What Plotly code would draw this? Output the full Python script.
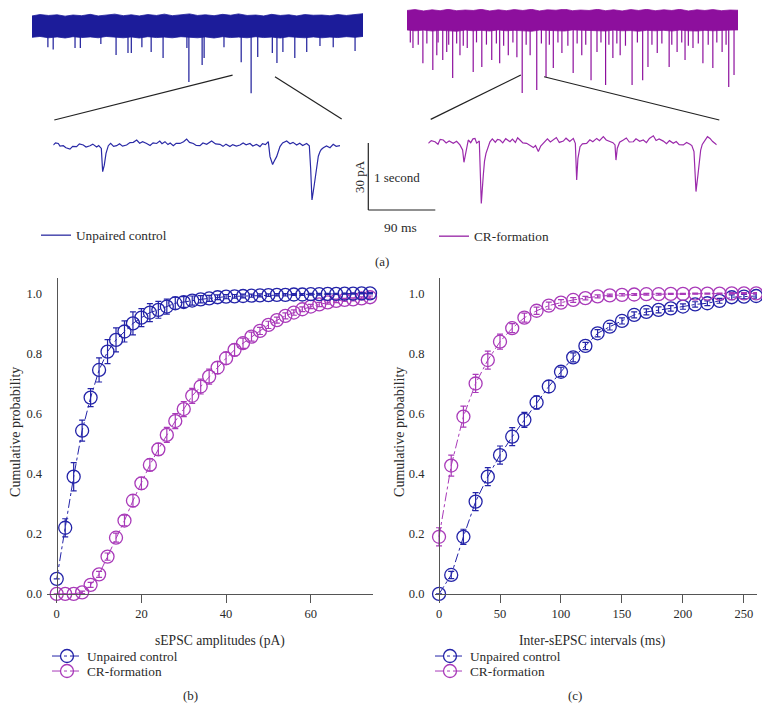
import plotly.graph_objects as go

# The page body adds an 8 px margin on every side; keep the figure inside the window.
OFF = 8
W, H = 770 - 2 * OFF, 722 - 2 * OFF
SY = 0.9904  # measured vertical factor between page pixels and the captured picture

# ---------------- data: panel (b) amplitudes ----------------
amp_x = list(range(0, 76, 2))
amp_ctrl = [0.05, 0.22, 0.39, 0.543, 0.653, 0.745, 0.806, 0.845, 0.873, 0.90,
            0.919, 0.936, 0.945, 0.956, 0.967, 0.971, 0.976, 0.980, 0.983, 0.987,
            0.989, 0.990, 0.991, 0.992, 0.993, 0.994, 0.995, 0.995, 0.996, 0.996,
            0.997, 0.997, 0.998, 0.998, 0.999, 0.999, 1.0, 1.0]
amp_ctrl_err = [0.0, 0.03, 0.047, 0.035, 0.03, 0.04, 0.04, 0.04, 0.035, 0.038,
                0.03, 0.03, 0.028, 0.025, 0.02, 0.018, 0.015, 0.012, 0.01, 0.008,
                0.007, 0.006, 0.006, 0.005, 0.005, 0.004, 0.004, 0.004, 0.003, 0.003,
                0.003, 0.003, 0.002, 0.002, 0.002, 0.002, 0.002, 0.002]
amp_cr = [0.0, 0.0, 0.0, 0.005, 0.03, 0.065, 0.124, 0.187, 0.244, 0.31,
          0.368, 0.429, 0.481, 0.529, 0.575, 0.615, 0.659, 0.69, 0.723, 0.753,
          0.784, 0.812, 0.834, 0.856, 0.875, 0.895, 0.911, 0.925, 0.936, 0.947,
          0.956, 0.963, 0.97, 0.975, 0.978, 0.98, 0.983, 0.987]
amp_cr_err = [0.0, 0.0, 0.0, 0.004, 0.008, 0.01, 0.012, 0.015, 0.018, 0.02,
              0.02, 0.02, 0.02, 0.025, 0.025, 0.025, 0.025, 0.025, 0.025, 0.02,
              0.02, 0.02, 0.017, 0.015, 0.012, 0.012, 0.01, 0.01, 0.009, 0.008,
              0.007, 0.007, 0.006, 0.006, 0.005, 0.005, 0.005, 0.004]

# ---------------- data: panel (c) intervals ----------------
int_x = list(range(0, 261, 10))
int_ctrl = [0.0, 0.063, 0.19, 0.307, 0.39, 0.462, 0.523, 0.579, 0.637, 0.69,
            0.739, 0.787, 0.825, 0.867, 0.889, 0.908, 0.928, 0.938, 0.945, 0.95,
            0.956, 0.963, 0.967, 0.975, 0.987, 0.989, 0.991]
int_ctrl_err = [0.0, 0.012, 0.025, 0.03, 0.03, 0.03, 0.03, 0.025, 0.022, 0.02,
                0.015, 0.015, 0.012, 0.012, 0.011, 0.01, 0.01, 0.01, 0.01, 0.009,
                0.009, 0.009, 0.008, 0.008, 0.008, 0.007, 0.007]
int_cr = [0.19, 0.427, 0.59, 0.70, 0.778, 0.839, 0.884, 0.919, 0.942, 0.959,
          0.969, 0.978, 0.984, 0.99, 0.993, 0.995, 0.996, 0.997, 0.997, 0.998,
          0.998, 0.999, 0.999, 0.999, 1.0, 1.0, 1.0]
int_cr_err = [0.03, 0.035, 0.035, 0.03, 0.03, 0.025, 0.015, 0.015, 0.012, 0.012,
              0.01, 0.008, 0.006, 0.005, 0.004, 0.004, 0.003, 0.003, 0.003, 0.002,
              0.002, 0.002, 0.002, 0.002, 0.002, 0.002, 0.002]

# ---------------- data: panel (a) raw traces (s, pA) ----------------
env_t = [0.0, 0.12, 0.25, 0.38, 0.5, 0.62, 0.75, 0.88, 1.0, 1.12, 1.25, 1.38, 1.5, 1.62,
         1.75, 1.88, 2.0, 2.12, 2.25, 2.38, 2.5, 2.62, 2.75, 2.88, 3.0, 3.12, 3.25, 3.38,
         3.5, 3.62, 3.75, 3.88, 4.0, 4.12, 4.25, 4.38, 4.5, 4.62, 4.75, 4.88, 5.0]
ctrl_upper = [5.0, 5.6, 5.2, 5.5, 4.9, 5.4, 5.1, 5.7, 5.0, 5.3, 5.8, 5.1, 5.5, 5.0,
              5.6, 5.2, 5.8, 5.1, 5.4, 5.9, 5.2, 5.5, 5.1, 5.7, 5.3, 5.9, 5.2, 5.4,
              5.0, 5.7, 5.2, 5.5, 5.0, 5.6, 5.3, 5.4, 5.1, 5.6, 5.2, 5.5, 6.0]
ctrl_lower = [-4.6, -4.2, -4.8, -4.4, -4.9, -4.3, -4.7, -4.4, -4.8, -4.2, -4.6, -4.8, -4.4, -4.9,
              -4.3, -4.7, -4.5, -4.8, -4.3, -4.6, -4.8, -4.4, -4.9, -4.3, -4.7, -4.5, -4.8, -4.3,
              -4.7, -4.5, -4.9, -4.3, -4.6, -4.8, -4.4, -4.8, -4.5, -4.7, -4.3, -4.6, -4.2]
ctrl_ev_t = [0.24, 0.32, 0.65, 0.73, 1.04, 1.27, 1.45, 1.50, 1.66, 1.80, 1.98, 2.34,
             2.37, 2.57, 2.60, 2.90, 3.16, 3.31, 3.41, 3.63, 3.70, 3.79, 3.97, 4.15,
             4.35, 4.55, 4.88]
ctrl_ev_a = [-9.0, -10.0, -9.4, -9.4, -7.6, -12.5, -11.6, -11.6, -9.0, -11.2, -13.9, -9.4,
             -24.6, -17.0, -13.9, -9.0, -15.7, -29.6, -13.4, -11.6, -16.1, -11.2, -13.9, -11.2,
             -8.5, -9.0, -10.7]

cr_upper = [4.3, 4.7, 4.1, 4.6, 4.2, 4.8, 4.2, 4.5, 4.3, 4.8, 4.1, 4.6, 4.2, 4.7,
            4.3, 4.8, 4.1, 4.6, 4.4, 4.9, 4.2, 4.5, 4.3, 4.8, 4.2, 4.6, 4.1, 4.7,
            4.3, 4.8, 4.2, 4.6, 4.3, 4.8, 4.1, 4.6, 4.3, 4.7, 4.2, 4.5, 4.4]
cr_lower = [-4.4, -4.8, -4.5, -4.9, -4.6, -4.8, -5.0, -4.5, -4.8, -4.6, -4.9, -4.4, -4.8, -4.6,
            -4.8, -5.0, -4.5, -4.8, -4.7, -4.9, -4.4, -4.8, -4.6, -4.8, -4.9, -4.5, -4.8, -4.7,
            -5.0, -4.6, -4.8, -4.6, -4.9, -4.5, -4.8, -4.9, -4.6, -4.8, -4.7, -4.5, -4.4]
cr_ev_t = [0.05, 0.09, 0.17, 0.24, 0.30, 0.39, 0.45, 0.47, 0.54, 0.60, 0.63, 0.69, 0.75,
           0.80, 0.85, 0.91, 1.00, 1.05, 1.13, 1.20, 1.28, 1.35, 1.40, 1.46, 1.53, 1.60,
           1.66, 1.74, 1.80, 1.86, 1.96, 2.03, 2.10, 2.15, 2.21, 2.28, 2.34, 2.43, 2.51,
           2.57, 2.64, 2.70, 2.78, 2.87, 2.93, 3.00, 3.05, 3.11, 3.17, 3.22, 3.30, 3.40,
           3.48, 3.56, 3.64, 3.70, 3.78, 3.85, 3.96, 4.00, 4.08, 4.15, 4.20, 4.25, 4.32,
           4.40, 4.47, 4.55, 4.62, 4.68, 4.76, 4.82, 4.86, 4.94]
cr_ev_a = [-10.0, -12.5, -11.0, -19.3, -10.5, -22.4, -15.7, -10.0, -17.9, -14.3, -11.0, -26.0, -10.5,
           -15.7, -11.5, -12.5, -23.3, -10.0, -21.0, -11.0, -17.9, -10.5, -19.3, -11.5, -15.7, -10.0,
           -16.6, -32.7, -11.0, -15.7, -31.3, -10.5, -25.5, -11.0, -21.5, -10.0, -14.8, -11.5, -23.7,
           -10.5, -15.7, -11.0, -26.9, -14.3, -10.0, -29.1, -11.0, -17.0, -10.5, -15.7, -11.5, -29.1,
           -10.0, -26.9, -21.0, -11.0, -14.8, -10.5, -21.0, -11.0, -14.3, -10.0, -17.9, -11.5, -12.5,
           -10.5, -19.3, -11.0, -21.5, -10.0, -14.3, -11.0, -30.0, -24.6]

# ---------------- data: zoomed inset traces (ms, pA) ----------------
ins_ctrl_t = [0, 3, 6.7, 9, 13.4, 17, 22.4, 26, 31.3, 35, 40.3, 44, 49.3, 53, 58.2, 61, 64.5,
              66.3, 68.5, 70.8, 73.9, 77, 81, 85.1, 89, 93, 98.5, 103, 107.5, 112, 116, 120,
              125.4, 130, 134, 138.8, 143, 146, 150, 154, 157, 161.2, 165, 170.2, 175, 179.1,
              183, 188.1, 192, 197, 201, 206, 212.7, 218, 223.9, 228, 232, 237.3, 241, 246,
              250.8, 255, 259, 264.2, 268, 273, 277.6, 281, 285, 288.8, 291.1, 294.6, 297, 300,
              304.5, 308, 313.5, 318, 322, 326.9, 331, 335, 340.3, 343.9, 345.7, 347.5, 350.2,
              353.8, 356, 358.2, 360, 362.7, 367, 371.7, 376, 380, 385.1]
ins_ctrl_a = [0, 1.0, 0.7, -0.5, -0.3, -1.2, -1.8, -0.6, -0.7, 0.5, 0, -0.9, -0.3, 0.4, -0.9, -0.2, -1.5,
              -11.9, -9.0, -3.7, -0.3, 0.8, -0.6, -0.3, 0.6, -0.5, 0, 1.1, 1.2, 2.2, 0.8, 1.5,
              0.7, -0.2, 1.0, 0.7, 1.8, 0.6, 1.5, 0.2, 0.9, -0.3, 0.8, 0.7, 1.5, 2.7,
              1.2, 0.7, -0.2, -0.3, 0.9, 0.3, 1.8, 0.5, 0.3, -0.6, 0.4, -0.7, 0.2, -0.5,
              0, 0.9, 0.1, 0.7, -0.4, 0.3, -0.7, 0.6, 0.2, 1.5, -5.2, -8.7, -7.0, -5.2,
              -0.7, 0.9, 1.8, 0.6, 1.2, 0, 0.8, -0.2, 0.7, -0.3, -10.4, -24.6, -18.7,
              -9.0, -5.0, -3.0, -2.0, -1.2, -0.4, -1.2, 0.3, -0.6, -0.3]
ins_cr_t = [0, 4, 9, 13, 16, 20.1, 24, 28, 33.6, 38, 42.5, 46.1, 47.9, 50.6, 53.7, 57, 60, 62.7,
            65, 68.5, 70.3, 71.2, 73.9, 75.5, 77.5, 80, 82.8, 86, 90, 93, 96.3, 100, 104, 109.7,
            113, 117, 120, 123.1, 127, 132.1, 136, 141.1, 144, 147.8, 151, 156.7, 160, 164,
            167.9, 172, 176, 181.4, 185, 190, 194.8, 197.5, 199.3, 201, 203.8, 207, 212.7, 217,
            221, 226.2, 230, 235.1, 239, 244.1, 248, 250.8, 252.1, 253.9, 257, 262, 266, 270,
            275.4, 279, 284, 288.8, 293, 297, 302.3, 306, 310, 315.7, 320, 324, 329.1, 333, 337,
            342.6, 347, 351.5, 354, 356.9, 359.6, 362.2, 365.9, 368, 371.7, 375, 378.4, 382, 387.4]
ins_cr_a = [0, 1.2, 0.7, -0.4, 1.8, 1.5, 0.2, 1.1, 0, 0.9, -0.7, -3.0, -8.5, -3.7, 1.5, 0.3, 2.0, 2.2,
            0.1, 1.0, -14.2, -26.9, -14.2, -8.0, -4.5, -1.5, 0.7, 2.0, 0.5, 1.8, 1.5, 0.2, 2.1, 0.7,
            1.9, 0.4, 2.5, 1.5, 0.2, 0, -0.8, -1.9, -1.0, -3.7, -1.2, 0.7, 2.0, 0.6,
            1.5, 2.6, 0.4, 1.0, 2.3, 0.8, 2.2, 0, -16.4, -6.7, -1.5, -0.2, 0, 1.6,
            0.7, 2.2, 1.2, 3.0, 1.5, 0.7, 0.3, -0.7, -7.5, -2.2, 0.5, 1.5, 2.4, 0.6,
            0.7, 2.0, 0.9, 1.5, 0.3, 2.2, 3.4, 1.3, 2.0, 1.0, -0.2, 1.2, 0, 0.8, -0.6,
            -0.7, 0.4, -0.4, -1.0, -3.7, -21.6, -14.2, -3.0, -0.5, 1.5, 3.0, 2.2, 0.8, -0.7]

SCALE_PA = 30
SCALE_MS = 90
ZOOM_CTRL = (3.03, 3.67)   # s, window of the raw trace shown enlarged
ZOOM_CR = (1.72, 2.07)

# ---------------- styling ----------------
FONT = "Liberation Serif"
TXT = "#2a2a2a"
AX = "#555555"
BLUE = "#2323a8"
PURP = "#a93ab9"
RAW_BLUE = "#1c1c9a"
RAW_PURP = "#8d0f9d"
INS_BLUE = "#2a2aa6"
INS_PURP = "#9b2aab"


def px(x):
    return (x - OFF) / W


def py(y):
    return 1 - (y / SY - OFF) / H


fig = go.Figure()


def cdf_trace(x, y, e, color, name, xa, ya, legend):
    return go.Scatter(
        x=x, y=y, mode="lines+markers", name=name,
        xaxis=xa, yaxis=ya, legend=legend, cliponaxis=False,
        line=dict(color=color, width=1, dash="dashdot"),
        marker=dict(symbol="circle-open", size=13, color=color, line=dict(width=1.3, color=color)),
        error_y=dict(type="data", array=e, visible=True, color=color, thickness=1.2, width=3),
    )


fig.add_trace(cdf_trace(amp_x, amp_cr, amp_cr_err, PURP, "CR-formation", "x", "y", "legend5"))
fig.add_trace(cdf_trace(amp_x, amp_ctrl, amp_ctrl_err, BLUE, "Unpaired control", "x", "y", "legend"))
fig.add_trace(cdf_trace(int_x, int_ctrl, int_ctrl_err, BLUE, "Unpaired control", "x2", "y2", "legend2"))
fig.add_trace(cdf_trace(int_x, int_cr, int_cr_err, PURP, "CR-formation", "x2", "y2", "legend6"))


def band(t, up, lo, color, xa, ya):
    return go.Scatter(x=t + t[::-1], y=up + lo[::-1], fill="toself", fillcolor=color,
                      line=dict(width=0.8, color=color), mode="lines", hoverinfo="skip",
                      showlegend=False, xaxis=xa, yaxis=ya)


def spikes(t, a, color, xa, ya, name, legend):
    xs, ys = [], []
    for ti, ai in zip(t, a):
        xs += [ti, ti, None]
        ys += [-4.0, ai, None]
    return go.Scatter(x=xs, y=ys, mode="lines", line=dict(color=color, width=1.2),
                      xaxis=xa, yaxis=ya, name=name, legend=legend, showlegend=True)


fig.add_trace(band(env_t, ctrl_upper, ctrl_lower, RAW_BLUE, "x3", "y3"))
fig.add_trace(spikes(ctrl_ev_t, ctrl_ev_a, RAW_BLUE, "x3", "y3", "Unpaired control", "legend3"))
fig.add_trace(band(env_t, cr_upper, cr_lower, RAW_PURP, "x4", "y4"))
fig.add_trace(spikes(cr_ev_t, cr_ev_a, RAW_PURP, "x4", "y4", "CR-formation", "legend4"))

fig.add_trace(go.Scatter(x=ins_ctrl_t, y=ins_ctrl_a, mode="lines", line=dict(color=INS_BLUE, width=1.2),
                         xaxis="x5", yaxis="y5", showlegend=False))
fig.add_trace(go.Scatter(x=ins_cr_t, y=ins_cr_a, mode="lines", line=dict(color=INS_PURP, width=1.2),
                         xaxis="x6", yaxis="y6", showlegend=False))

tickfont = dict(family=FONT, size=12.5, color=TXT)
hidden = dict(visible=False)

# pixel scale of panel (a): 67 px = 30 pA = 90 ms = 1 s
PX_PER_S = 331 / 5.0
PX_PER_PA = 67 / 30.0
PX_PER_MS = 67 / 90.0
RAW_CTRL_X0, RAW_CR_X0 = 32, 407
RAW_TOP, RAW_BOT = 9, 100


def lin_range(p0, p1, p_zero, ppu, invert=False):
    if invert:  # vertical: pixel grows downward
        return [-(p1 - p_zero) / ppu, (p_zero - p0) / ppu]
    return [(p0 - p_zero) / ppu, (p1 - p_zero) / ppu]


layout = dict(
    width=W, height=H, margin=dict(l=0, r=0, t=0, b=0),
    paper_bgcolor="white", plot_bgcolor="rgba(0,0,0,0)",
    font=dict(family=FONT, size=12.5, color=TXT),
    xaxis=dict(domain=[px(47), px(373)], range=[-2.3, 74.7], anchor="y",
               showline=True, linecolor=AX, linewidth=1.2, ticks="outside", ticklen=8,
               tickcolor=AX, tickwidth=1.2, tickvals=[0, 20, 40, 60], showgrid=False,
               zeroline=False, tickfont=tickfont),
    yaxis=dict(domain=[py(594), py(278)], range=[0, 1.051], anchor="free", position=px(56.7),
               showline=True, linecolor=AX, linewidth=1.2, ticks="", tickvals=[0, 0.2, 0.4, 0.6, 0.8, 1.0],
               tickformat=".1f", showgrid=False, zeroline=False, tickfont=tickfont, ticklabelstandoff=12),
    xaxis2=dict(domain=[px(435), px(757)], range=[-3.3, 260.7], anchor="y2",
                showline=True, linecolor=AX, linewidth=1.2, ticks="outside", ticklen=8,
                tickcolor=AX, tickwidth=1.2, tickvals=[0, 50, 100, 150, 200, 250], showgrid=False,
                zeroline=False, tickfont=tickfont),
    yaxis2=dict(domain=[py(594), py(278)], range=[0, 1.051], anchor="free", position=px(439),
                showline=True, linecolor=AX, linewidth=1.2, ticks="", tickvals=[0, 0.2, 0.4, 0.6, 0.8, 1.0],
                tickformat=".1f", showgrid=False, zeroline=False, tickfont=tickfont, ticklabelstandoff=12),
    xaxis3=dict(domain=[px(RAW_CTRL_X0), px(RAW_CTRL_X0 + 331)], range=[0, 5], anchor="y3", **hidden),
    yaxis3=dict(domain=[py(RAW_BOT), py(RAW_TOP)], range=lin_range(RAW_TOP, RAW_BOT, 27, PX_PER_PA, True),
                anchor="x3", **hidden),
    xaxis4=dict(domain=[px(RAW_CR_X0), px(RAW_CR_X0 + 331)], range=[0, 5], anchor="y4", **hidden),
    yaxis4=dict(domain=[py(RAW_BOT), py(RAW_TOP)], range=lin_range(RAW_TOP, RAW_BOT, 20, PX_PER_PA, True),
                anchor="x4", **hidden),
    xaxis5=dict(domain=[px(53.3), px(341.7)], range=lin_range(53.3, 341.7, 53.3, PX_PER_MS), anchor="y5", **hidden),
    yaxis5=dict(domain=[py(212), py(125)], range=lin_range(125, 212, 145, PX_PER_PA, True), anchor="x5", **hidden),
    xaxis6=dict(domain=[px(428.3), px(716.7)], range=lin_range(428.3, 716.7, 428.3, PX_PER_MS), anchor="y6", **hidden),
    yaxis6=dict(domain=[py(212), py(125)], range=lin_range(125, 212, 143.3, PX_PER_PA, True), anchor="x6", **hidden),
)

leg_common = dict(xanchor="left", yanchor="top", bgcolor="rgba(0,0,0,0)", borderwidth=0,
                  font=dict(family=FONT, size=13.3, color=TXT), tracegroupgap=0,
                  itemclick=False, itemdoubleclick=False)
layout["legend"] = dict(x=px(47), y=py(641), **leg_common)
layout["legend5"] = dict(x=px(47), y=py(656), **leg_common)
layout["legend2"] = dict(x=px(430), y=py(641), **leg_common)
layout["legend6"] = dict(x=px(430), y=py(656), **leg_common)
layout["legend3"] = dict(x=px(36), y=py(220), **leg_common)
layout["legend4"] = dict(x=px(434), y=py(221), **leg_common)

fig.update_layout(**layout)

line_k = dict(color="#222222", width=1.2)


def seg(x0, y0, x1, y1):
    return dict(type="line", xref="paper", yref="paper", x0=px(x0), y0=py(y0),
                x1=px(x1), y1=py(y1), line=line_k)


shapes = [
    # connectors from the zoomed window on each raw trace to its enlarged inset
    seg(RAW_CTRL_X0 + ZOOM_CTRL[0] * PX_PER_S, 75, 54.3, 120),
    seg(RAW_CTRL_X0 + ZOOM_CTRL[1] * PX_PER_S, 76.7, 341.7, 119),
    seg(RAW_CR_X0 + ZOOM_CR[0] * PX_PER_S, 75, 430.7, 119.3),
    seg(RAW_CR_X0 + ZOOM_CR[1] * PX_PER_S, 76.7, 719.3, 120),
]
# scale bar: 30 pA vertical, 90 ms horizontal
sb_x, sb_y = 368.3, 210
shapes.append(seg(sb_x, sb_y, sb_x, sb_y - SCALE_PA * PX_PER_PA))
shapes.append(seg(sb_x, sb_y, sb_x + SCALE_MS * PX_PER_MS, sb_y))
fig.update_layout(shapes=shapes)

ann = []


def text(x, y, s, size=12.5, angle=0, xanchor="center"):
    ann.append(dict(x=px(x), y=py(y), xref="paper", yref="paper", text=s, showarrow=False,
                    textangle=angle, xanchor=xanchor, yanchor="middle",
                    font=dict(family=FONT, size=size, color=TXT)))


text(359, 177, "30 pA", size=13, angle=-90)
text(372, 177, "1 second", size=13, xanchor="left")
text(400, 227, "90 ms", size=13.5)
text(382, 262, "(a)", size=13)
text(219.5, 641, "sEPSC amplitudes (pA)", size=13.6)
text(592, 641, "Inter-sEPSC intervals (ms)", size=13.6)
text(16, 432, "Cumulative probability", size=14, angle=-90)
text(400, 432, "Cumulative probability", size=14, angle=-90)
text(190, 696, "(b)", size=13)
text(575, 696, "(c)", size=13)
fig.update_layout(annotations=ann)

fig.write_html("out.html")
